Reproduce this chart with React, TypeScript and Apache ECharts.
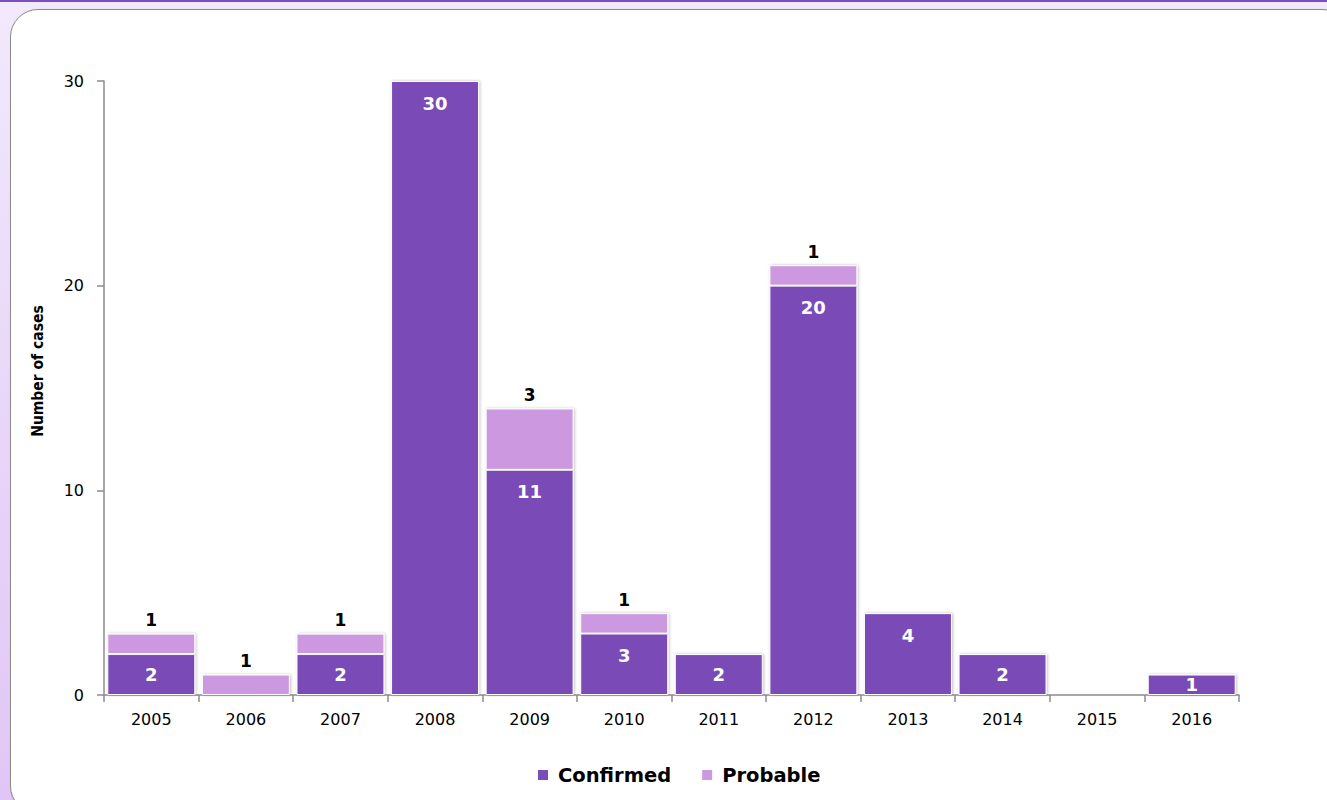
import React, { useEffect, useRef } from "react";
import * as echarts from "echarts";

const years = ["2005", "2006", "2007", "2008", "2009", "2010", "2011", "2012", "2013", "2014", "2015", "2016"];
const confirmed = [2, 0, 2, 30, 11, 3, 2, 20, 4, 2, 0, 1];
const probable = [1, 1, 1, 0, 3, 1, 0, 1, 0, 0, 0, 0];
const yTicks = [0, 10, 20, 30];
const yAxisTitle = "Number of cases";

const CONFIRMED_COLOR = "#7A4CB6";
const PROBABLE_COLOR = "#CC99E0";
const FONT = "'DejaVu Sans', Verdana, sans-serif";

export default function App() {
  const ref = useRef<HTMLDivElement>(null);
  useEffect(() => {
    document.body.style.margin = "0";
    if (!ref.current) return;
    const chart = echarts.init(ref.current, null, { renderer: "svg" });
    const itemStyleBase = {
      borderColor: "#ffffff",
      borderWidth: 1,
      shadowBlur: 3,
      shadowColor: "rgba(0,0,0,0.25)",
      shadowOffsetX: 1,
      shadowOffsetY: 0,
    };
    chart.setOption({
      animation: false,
      grid: { left: 104, right: 88, top: 81, bottom: 105, containLabel: false },
      graphic: [
        {
          type: "text",
          x: 38,
          y: 371,
          rotation: Math.PI / 2,
          style: {
            text: yAxisTitle,
            fontFamily: "'Liberation Sans Narrow', 'DejaVu Sans Condensed', sans-serif",
            fontSize: 15.5,
            fontWeight: "bold",
            fill: "#000",
            textAlign: "center",
            textVerticalAlign: "middle",
          },
        },
      ],
      legend: {
        bottom: 10,
        left: 531,
        itemWidth: 12,
        itemHeight: 12,
        itemGap: 29,
        icon: "rect",
        textStyle: { fontFamily: FONT, fontSize: 19.5, fontWeight: "bold", color: "#000", padding: [0, 0, 0, 4] },
        data: ["Confirmed", "Probable"],
      },
      xAxis: {
        type: "category",
        data: years,
        axisLine: { lineStyle: { color: "#8c8c8c", width: 1.5 } },
        axisTick: { show: true, alignWithLabel: false, length: 7, lineStyle: { color: "#8c8c8c", width: 1.5 } },
        axisLabel: { fontFamily: FONT, fontSize: 16, color: "#000", margin: 16 },
      },
      yAxis: {
        type: "value",
        min: yTicks[0],
        max: yTicks[yTicks.length - 1],
        interval: 10,
        splitLine: { show: false },
        axisLine: { show: true, lineStyle: { color: "#8c8c8c", width: 1.5 } },
        axisTick: { show: true, length: 7, lineStyle: { color: "#8c8c8c", width: 1.5 } },
        axisLabel: { fontFamily: FONT, fontSize: 16, color: "#000", margin: 20 },
      },
      series: [
        {
          name: "Confirmed",
          type: "bar",
          stack: "total",
          barCategoryGap: "7%",
          itemStyle: { ...itemStyleBase, color: CONFIRMED_COLOR },
          data: confirmed.map((v) =>
            v > 0
              ? {
                  value: v,
                  label: {
                    show: true,
                    position: v <= 2 ? "inside" : "insideTop",
                    distance: 13,
                    color: "#fff",
                    fontFamily: FONT,
                    fontWeight: "bold",
                    fontSize: 18,
                  },
                }
              : { value: null }
          ),
        },
        {
          name: "Probable",
          type: "bar",
          stack: "total",
          barCategoryGap: "7%",
          itemStyle: { ...itemStyleBase, color: PROBABLE_COLOR },
          data: probable.map((v) =>
            v > 0
              ? {
                  value: v,
                  label: {
                    show: true,
                    position: "top",
                    distance: 5,
                    color: "#000",
                    fontFamily: FONT,
                    fontWeight: "bold",
                    fontSize: 17,
                  },
                }
              : { value: null }
          ),
        },
      ],
    });
    return () => chart.dispose();
  }, []);

  return (
    <div
      style={{
        position: "fixed",
        left: 0,
        top: 0,
        width: 1327,
        height: 800,
        overflow: "hidden",
        background: "linear-gradient(to bottom, #F2E9FC 0%, #E9D7F9 50%, #E0C6F5 100%)",
        borderTop: "2px solid #7B4FBF",
        boxSizing: "border-box",
      }}
    >
      <div
        style={{
          position: "absolute",
          left: 10,
          top: 7,
          width: 1340,
          height: 805,
          background: "#ffffff",
          border: "1.5px solid #8a8a8a",
          borderRadius: 28,
          boxShadow: "1px 1px 2px rgba(0,0,0,0.25)",
          boxSizing: "border-box",
        }}
      />
      <div ref={ref} style={{ position: "absolute", left: 0, top: -2, width: 1327, height: 800 }} />
    </div>
  );
}
